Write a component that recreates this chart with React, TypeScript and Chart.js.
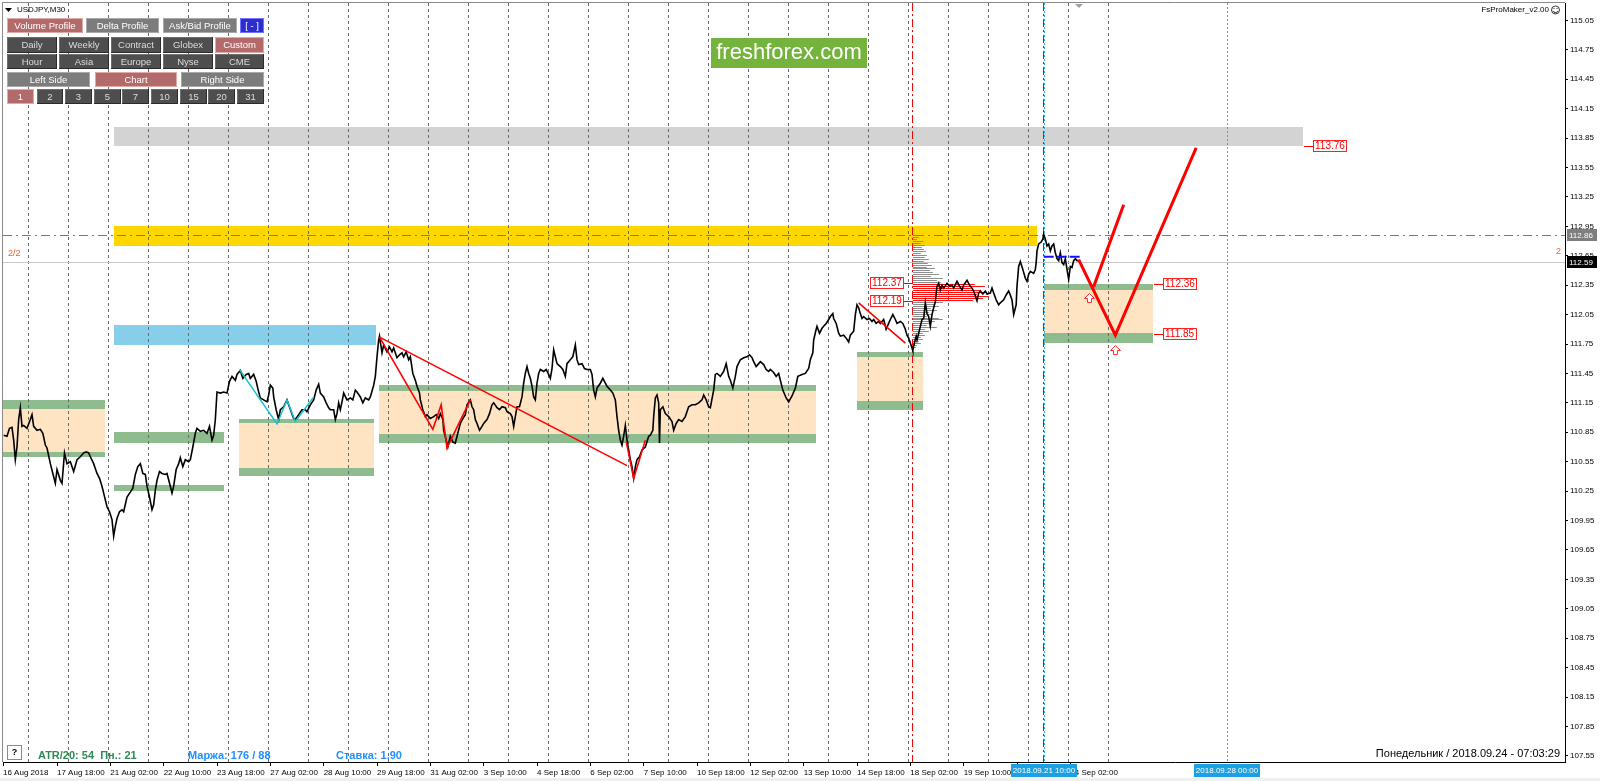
import React, { useEffect, useRef } from "react";
import { Chart, registerables } from "chart.js";

Chart.register(...registerables);

const FONT = '"Liberation Sans", Arial, sans-serif';

// ---- axes (x = M30 bar index, weekends removed; bar 0 = 17 Aug 2018 18:00) ----
const X_MIN = -64.8;
const X_MAX = 1809.6;
const Y_MIN = 107.488;
const Y_MAX = 115.227;

const xTickBars = [X_MIN, 0, 64, 128, 192, 256, 320, 384, 448, 512, 576, 640, 704, 768, 832, 896, 960, 1024, 1088, 1152, 1216];
const xTickLabels = [
  "16 Aug 2018", "17 Aug 18:00", "21 Aug 02:00", "22 Aug 10:00", "23 Aug 18:00", "27 Aug 02:00", "28 Aug 10:00",
  "29 Aug 18:00", "31 Aug 02:00", "3 Sep 10:00", "4 Sep 18:00", "6 Sep 02:00", "7 Sep 10:00", "10 Sep 18:00",
  "12 Sep 02:00", "13 Sep 10:00", "14 Sep 18:00", "18 Sep 02:00", "19 Sep 10:00", "20 Sep 18:00", "24 Sep 02:00",
];
const yTickValues = [
  107.55, 107.85, 108.15, 108.45, 108.75, 109.05, 109.35, 109.65, 109.95, 110.25, 110.55, 110.85, 111.15,
  111.45, 111.75, 112.05, 112.35, 112.65, 112.95, 113.25, 113.55, 113.85, 114.15, 114.45, 114.75, 115.05,
];

// day separators (midnight), in bars
const DAY_SEP_FIRST = -35;
const DAY_SEP_LAST = 1262;
const BARS_PER_DAY = 48;

// ---- USDJPY M30 close line: [bar, price] ----
const usdjpyCloses: number[][] = [
  [-64,110.82],[-60,110.81],[-57,110.89],[-54,110.90],[-52,110.77],[-50,110.57],[-48,110.70],[-46,110.98],[-44,111.10],[-42,110.91],
  [-40,110.92],[-36,110.89],[-32,110.98],[-30,111.03],[-28,110.91],[-24,110.87],[-20,110.88],[-17,110.84],[-14,110.72],[-12,110.69],
  [-8,110.53],[-5,110.43],[-2,110.33],[0,110.47],[4,110.36],[6,110.33],[9,110.64],[12,110.53],[16,110.55],[20,110.45],
  [24,110.57],[28,110.60],[32,110.64],[35,110.65],[38,110.64],[40,110.60],[44,110.53],[48,110.43],[51,110.38],[54,110.30],
  [56,110.23],[60,110.09],[63,110.04],[66,109.96],[68,109.79],[70,109.89],[72,109.97],[75,110.04],[78,110.06],[80,110.04],
  [84,110.19],[88,110.24],[91,110.28],[94,110.42],[97,110.50],[100,110.53],[103,110.43],[106,110.42],[108,110.30],[111,110.19],
  [114,110.06],[116,110.11],[118,110.26],[120,110.36],[123,110.45],[126,110.43],[130,110.42],[132,110.43],[136,110.30],[138,110.23],
  [140,110.30],[143,110.47],[146,110.53],[148,110.59],[151,110.50],[154,110.57],[158,110.55],[160,110.57],[163,110.70],[166,110.84],
  [168,110.89],[172,110.86],[176,110.87],[180,110.84],[183,110.91],[186,110.77],[188,110.82],[190,110.98],[192,111.26],[196,111.25],
  [200,111.26],[204,111.25],[207,111.37],[210,111.42],[214,111.38],[216,111.44],[220,111.48],[223,111.40],[227,111.44],[230,111.45],
  [232,111.40],[236,111.44],[239,111.37],[242,111.26],[244,111.20],[248,111.18],[252,111.16],[254,111.23],[256,111.33],[259,111.30],
  [260,111.21],[263,111.08],[266,110.98],[268,111.08],[272,111.11],[276,111.18],[278,111.13],[281,111.06],[284,110.99],[286,110.98],
  [290,111.03],[294,111.08],[298,111.08],[300,111.06],[304,111.13],[308,111.18],[311,111.28],[314,111.34],[316,111.25],[320,111.21],
  [323,111.15],[326,111.10],[328,111.08],[332,111.08],[334,110.98],[336,111.04],[338,111.15],[340,111.08],[342,111.16],[344,111.25],
  [348,111.18],[352,111.20],[355,111.18],[358,111.28],[360,111.26],[364,111.21],[367,111.15],[370,111.20],[374,111.18],[376,111.21],
  [380,111.33],[382,111.42],[384,111.62],[386,111.79],[387,111.83],
  [390,111.66],[392,111.74],[396,111.67],[399,111.72],[402,111.67],[404,111.71],[408,111.61],[411,111.64],[414,111.66],[416,111.62],
  [419,111.67],[422,111.59],[424,111.62],[427,111.45],[430,111.38],[432,111.32],[435,111.25],[436,111.18],[439,111.08],[442,111.01],
  [444,111.03],[448,110.99],[452,111.01],[455,111.03],[458,110.99],[460,111.04],[463,110.98],[464,110.87],[467,110.77],[469,110.70],
  [472,110.81],[475,110.75],[478,110.74],[480,110.81],[484,110.94],[487,110.99],[490,111.03],[492,111.13],[496,111.18],[498,111.11],
  [500,111.08],[502,110.98],[504,110.94],[507,110.87],[510,110.91],[512,110.94],[516,110.98],[519,111.04],[522,111.13],[524,111.15],
  [528,111.10],[531,111.08],[534,111.11],[538,111.10],[540,111.06],[544,111.04],[546,111.01],[548,110.91],[550,111.01],[552,111.11],
  [555,111.11],[558,111.21],[560,111.35],[562,111.45],[564,111.52],[566,111.45],[568,111.40],[570,111.32],[572,111.21],[574,111.18],
  [576,111.35],[578,111.45],[580,111.49],[584,111.47],[587,111.49],[590,111.44],[592,111.40],[594,111.50],[596,111.69],[598,111.62],
  [600,111.55],[604,111.52],[607,111.49],[610,111.42],[612,111.55],[616,111.59],[619,111.62],[622,111.74],[624,111.59],[626,111.54],
  [630,111.55],[633,111.50],[636,111.49],[640,111.49],[642,111.44],[644,111.28],[646,111.21],[648,111.30],[652,111.35],[655,111.40],
  [658,111.35],[660,111.32],[664,111.28],[667,111.25],[670,111.18],[672,111.01],[674,110.87],[676,110.77],[678,110.72],[680,110.81],
  [682,110.92],[684,110.77],[686,110.67],[688,110.57],[690,110.50],[692,110.38],[694,110.50],[696,110.57],[699,110.60],[702,110.67],
  [706,110.70],[710,110.81],[712,110.82],[715,110.87],[716,111.01],[718,111.20],[720,111.23],[722,111.15],[723,110.74],[724,111.08],
  [727,111.11],[730,111.04],[734,111.01],[738,110.96],[740,110.87],[743,110.94],[746,110.98],[750,110.96],[754,111.01],[758,111.11],
  [762,111.13],[766,111.13],[770,111.15],[774,111.18],[776,111.23],[779,111.18],[782,111.11],[784,111.10],[788,111.28],[790,111.44],
  [792,111.45],[796,111.42],[800,111.47],[803,111.55],[806,111.42],[808,111.38],[811,111.30],[814,111.42],[816,111.52],[820,111.59],
  [824,111.61],[828,111.62],[831,111.64],
  [834,111.61],[836,111.57],[839,111.52],[842,111.55],[844,111.57],[848,111.54],[851,111.49],[854,111.47],[856,111.49],[860,111.46],
  [863,111.42],[866,111.45],[868,111.38],[871,111.28],[875,111.20],[878,111.16],[882,111.22],[886,111.30],[889,111.42],[894,111.44],
  [898,111.45],[902,111.50],[904,111.59],[907,111.66],[908,111.79],[911,111.90],[912,111.93],[915,111.86],[918,111.91],[920,111.93],
  [923,111.96],[926,112.00],[928,112.03],[931,112.06],[932,112.01],[935,111.96],[938,111.86],[940,111.83],[944,111.84],[947,111.81],
  [950,111.77],[952,111.84],[956,111.88],[958,112.05],[960,112.15],[962,112.12],[964,112.06],[966,112.01],[968,112.03],[972,112.00],
  [975,112.01],[978,111.98],[980,112.00],[983,111.96],[986,111.98],[988,111.96],[992,112.00],[995,111.90],[998,111.96],[1000,112.00],
  [1003,112.05],[1006,112.00],[1008,111.96],[1012,111.98],[1015,111.96],[1018,111.90],[1020,111.84],[1022,111.81],[1024,111.76],[1026,111.71],
  [1027,111.68],[1028,111.73],[1031,111.83],[1032,111.79],[1034,111.86],[1036,111.93],[1038,112.00],[1040,112.01],[1042,112.17],[1044,112.06],
  [1046,112.03],[1048,111.93],[1050,112.05],[1052,112.12],[1054,112.18],[1056,112.34],[1058,112.37],[1060,112.30],[1062,112.35],[1064,112.32],
  [1068,112.37],[1071,112.34],[1074,112.35],[1076,112.32],[1080,112.39],[1083,112.34],[1086,112.30],[1088,112.35],[1092,112.40],[1095,112.35],
  [1098,112.32],[1100,112.29],[1102,112.24],[1104,112.19],[1106,112.27],[1108,112.29],[1111,112.26],[1114,112.29],[1116,112.26],[1120,112.27],
  [1122,112.32],[1124,112.27],[1127,112.20],[1130,112.15],[1132,112.17],[1136,112.20],[1139,112.25],[1142,112.29],[1144,112.25],[1146,112.20],
  [1148,112.05],[1151,112.15],[1152,112.34],[1154,112.54],[1156,112.59],[1159,112.51],[1162,112.42],[1164,112.39],[1166,112.46],[1168,112.49],
  [1172,112.47],[1174,112.51],[1175,112.58],[1176,112.70],[1178,112.77],[1181,112.79],[1183,112.82],[1184,112.87],[1186,112.82],[1188,112.75],
  [1190,112.77],[1192,112.70],[1194,112.75],[1196,112.77],[1198,112.68],[1200,112.62],[1202,112.60],[1204,112.68],[1206,112.58],[1208,112.56],
  [1210,112.62],[1212,112.51],[1214,112.41],[1216,112.54],[1218,112.53],[1220,112.60],[1222,112.62],[1224,112.60],[1226,112.60],
];

// ---- zones: [barFrom, barTo, priceTop, priceBottom] ----
const grayZones = [[68, 1495, 113.965, 113.77]];
const goldZones = [[68, 1176, 112.95, 112.75]];
const skyZones = [[68, 383, 111.94, 111.735]];
const sandZones = [
  [-66, 58, 111.09, 110.645], [218, 380, 110.94, 110.49], [386, 911, 111.27, 110.835],
  [960, 1039, 111.615, 111.17], [1184, 1315, 112.30, 111.86],
];
const greenZones = [
  [-66, 58, 111.18, 111.09], [-66, 58, 110.645, 110.595], [68, 200, 110.85, 110.745], [68, 200, 110.31, 110.255],
  [218, 380, 110.99, 110.94], [218, 380, 110.49, 110.40], [386, 911, 111.33, 111.27], [386, 911, 110.835, 110.74],
  [960, 1039, 111.665, 111.615], [960, 1039, 111.17, 111.08], [1184, 1315, 112.36, 112.30], [1184, 1315, 111.86, 111.765],
];

// ---- drawn lines: [bar, price] ----
const redTrendLong = [[387, 111.82], [684, 110.51]];
const redZigzagA = [[387, 111.82], [451, 110.88], [461, 111.13], [468, 110.69], [496, 111.18]];
const redZigzagB = [[683, 110.76], [692, 110.38], [706, 110.77]];
const redZigzagC = [[962, 112.17], [1018, 111.76]];
const cyanZigzag = [[219, 111.49], [264, 110.935], [276, 111.18], [286, 110.96], [308, 111.21]];
const forecastMain = [[1226, 112.61], [1270, 111.84], [1367, 113.75]];
const forecastAlt = [[1244, 112.335], [1280, 113.17]];
const bidTrail = [[1184, 112.64], [1230, 112.64]];
const arrowMarks = [[1238, 112.27], [1270, 111.74]];

const redDashVerticals = [1027, 1184];
const cyanDotVerticals = [1184, 1404];
const DASHDOT_LEVEL = 112.86;
const BID_LEVEL = 112.59;

// ---- volume profile ----
const PROFILE_START = 1027;
const PROFILE_BARS_PER_UNIT = 1.2;
const VALUE_AREA_LOW = 112.19;
const VALUE_AREA_HIGH = 112.37;
const profileLevels = [
  112.86, 112.84, 112.82, 112.80, 112.78, 112.76, 112.74, 112.72, 112.70, 112.68, 112.66, 112.64, 112.62, 112.60,
  112.58, 112.56, 112.54, 112.52, 112.50, 112.48, 112.46, 112.44, 112.42, 112.40, 112.38, 112.36, 112.34, 112.32,
  112.30, 112.28, 112.26, 112.24, 112.22, 112.20, 112.18, 112.16, 112.14, 112.12, 112.10, 112.08, 112.06, 112.04,
  112.02, 112.00, 111.98, 111.96, 111.94, 111.92, 111.90, 111.88, 111.86, 111.84, 111.82, 111.80, 111.78, 111.76,
  111.74, 111.72,
];
const profileVolumes = [
  3, 6, 4, 10, 8, 12, 9, 11, 13, 8, 14, 12, 16, 11, 15, 19, 14, 22, 17, 20, 26, 18, 30, 24, 28, 62, 72, 58, 68, 74,
  64, 76, 70, 60, 30, 22, 26, 18, 24, 16, 20, 14, 26, 30, 22, 18, 14, 24, 12, 16, 10, 12, 8, 10, 6, 8, 4, 3,
];

// ---- price labels: [anchorBar, price, text] ----
const leftTags = [[1027, 112.37, "112.37"], [1027, 112.19, "112.19"]];
const rightTags = [[1495, 113.765, "113.76"], [1315, 112.36, "112.36"], [1315, 111.85, "111.85"]];
const axisTags = [[112.86, "#7F7F7F"], [112.59, "#000000"]];
const axisTimeTags = [[1184, "2018.09.21 10:00"], [1404, "2018.09.28 00:00"]];

// ---- panel buttons ----
const buttons: [string, number, number, number, number, string][] = [
  ["Volume Profile", 7, 18, 76, 15, "red"], ["Delta Profile", 86, 18, 73, 15, "gray"], ["Ask/Bid Profile", 163, 18, 74, 15, "gray"], ["[ - ]", 240, 18, 24, 15, "blue"],
  ["Daily", 7, 37, 50, 16, "dark"], ["Weekly", 59, 37, 50, 16, "dark"], ["Contract", 111, 37, 50, 16, "dark"], ["Globex", 163, 37, 50, 16, "dark"], ["Custom", 215, 37, 49, 16, "red"],
  ["Hour", 7, 54, 50, 15, "dark"], ["Asia", 59, 54, 50, 15, "dark"], ["Europe", 111, 54, 50, 15, "dark"], ["Nyse", 163, 54, 50, 15, "dark"], ["CME", 215, 54, 49, 15, "dark"],
  ["Left Side", 7, 72, 83, 15, "gray"], ["Chart", 95, 72, 82, 15, "red"], ["Right Side", 181, 72, 83, 15, "gray"],
  ["1", 7, 89, 27, 15, "red"], ["2", 37, 89, 26, 15, "dark"], ["3", 65, 89, 27, 15, "dark"], ["5", 94, 89, 27, 15, "dark"], ["7", 122, 89, 27, 15, "dark"],
  ["10", 151, 89, 27, 15, "dark"], ["15", 180, 89, 27, 15, "dark"], ["20", 208, 89, 27, 15, "dark"], ["31", 237, 89, 27, 15, "dark"],
];
const btnStyles: Record<string, { fill: string; hi: string; lo: string; text: string }> = {
  red: { fill: "#B26A6A", hi: "#E3A9A9", lo: "#E3A9A9", text: "#FFFFFF" },
  gray: { fill: "#7C7C7C", hi: "#A9A9A9", lo: "#A9A9A9", text: "#FFFFFF" },
  dark: { fill: "#4E4E4E", hi: "#6E6E6E", lo: "#2A2A2A", text: "#DCDCDC" },
  blue: { fill: "#2E2ECF", hi: "#7474FF", lo: "#7474FF", text: "#FFFFFF" },
};

const toXY = (arr: number[][]) => arr.map(([x, y]) => ({ x, y }));
const lineDs = (arr: number[][], color: string, width: number, order: number, dash: number[] = []) => ({
  data: toXY(arr), borderColor: color, borderWidth: width, pointRadius: 0, pointHoverRadius: 0,
  fill: false, tension: 0, order, borderDash: dash, borderJoinStyle: "miter" as const,
});

const drawPlugin = {
  id: "mt4Overlay",
  beforeDraw(chart: any) {
    const ctx = chart.ctx;
    ctx.save();
    ctx.fillStyle = "#FFFFFF";
    ctx.fillRect(0, 0, chart.width, chart.height);
    ctx.fillStyle = "#F0F0F0";
    ctx.fillRect(0, 778, chart.width, 3);
    ctx.restore();
  },
  beforeDatasetsDraw(chart: any) {
    const { ctx, chartArea: a } = chart;
    const xs = chart.scales.x, ys = chart.scales.y;
    const X = (v: number) => xs.getPixelForValue(v);
    const Y = (v: number) => ys.getPixelForValue(v);
    ctx.save();
    ctx.beginPath();
    ctx.rect(a.left, a.top, a.right - a.left, a.bottom - a.top);
    ctx.clip();
    const zones = (list: number[][], color: string) => {
      ctx.fillStyle = color;
      list.forEach(([t1, t2, p1, p2]) => {
        const x1 = Math.round(X(t1)), x2 = Math.round(X(t2)), y1 = Math.round(Y(p1)), y2 = Math.round(Y(p2));
        ctx.fillRect(x1, y1, x2 - x1, y2 - y1);
      });
    };
    zones(grayZones, "#D3D3D3");
    zones(goldZones, "#FFD700");
    zones(skyZones, "#87CEEB");
    zones(sandZones, "#FFE4C4");
    zones(greenZones, "#8FBC8F");

    // day separators
    ctx.strokeStyle = "#6A6A6A";
    ctx.lineWidth = 1;
    ctx.setLineDash([3, 3]);
    for (let b = DAY_SEP_FIRST; b <= DAY_SEP_LAST; b += BARS_PER_DAY) {
      const x = Math.round(X(b)) + 0.5;
      ctx.beginPath();
      ctx.moveTo(x, a.top);
      ctx.lineTo(x, a.bottom);
      ctx.stroke();
    }
    // cyan dotted verticals
    ctx.strokeStyle = "#1EB4F0";
    ctx.setLineDash([2, 2]);
    cyanDotVerticals.forEach((b) => {
      const x = Math.round(X(b)) + 0.5;
      ctx.beginPath(); ctx.moveTo(x, a.top); ctx.lineTo(x, a.bottom); ctx.stroke();
    });
    // red dash-dot verticals
    ctx.strokeStyle = "#FF0000";
    ctx.setLineDash([8, 3, 2, 3]);
    redDashVerticals.forEach((b) => {
      const x = Math.round(X(b)) - 0.5;
      ctx.beginPath(); ctx.moveTo(x, a.top); ctx.lineTo(x, a.bottom); ctx.stroke();
    });
    // horizontal levels
    ctx.strokeStyle = "#7A7A7A";
    ctx.setLineDash([9, 4, 2, 4]);
    let y = Math.round(Y(DASHDOT_LEVEL)) + 0.5;
    ctx.beginPath(); ctx.moveTo(a.left, y); ctx.lineTo(a.right, y); ctx.stroke();
    ctx.setLineDash([]);
    ctx.strokeStyle = "#C8C8C8";
    y = Math.round(Y(BID_LEVEL)) + 0.5;
    ctx.beginPath(); ctx.moveTo(a.left, y); ctx.lineTo(a.right, y); ctx.stroke();

    // volume profile
    const x0 = X(PROFILE_START);
    profileLevels.forEach((lvl, i) => {
      const inVA = lvl >= VALUE_AREA_LOW && lvl <= VALUE_AREA_HIGH;
      const x1 = X(PROFILE_START + profileVolumes[i] * PROFILE_BARS_PER_UNIT);
      const yc = Math.round(Y(lvl));
      ctx.fillStyle = inVA ? "#FF1010" : "#8E8E8E";
      ctx.fillRect(x0, yc, x1 - x0, 1);
    });
    ctx.restore();
  },
  afterDatasetsDraw(chart: any) {
    const { ctx } = chart;
    const xs = chart.scales.x, ys = chart.scales.y;
    const X = (v: number) => xs.getPixelForValue(v);
    const Y = (v: number) => ys.getPixelForValue(v);
    ctx.save();
    // hollow up arrows
    arrowMarks.forEach(([b, p]) => {
      const cx = Math.round(X(b)) + 0.5, top = Math.round(Y(p)) + 0.5;
      ctx.beginPath();
      ctx.moveTo(cx, top);
      ctx.lineTo(cx + 5, top + 5);
      ctx.lineTo(cx + 2, top + 5);
      ctx.lineTo(cx + 2, top + 9);
      ctx.lineTo(cx - 2, top + 9);
      ctx.lineTo(cx - 2, top + 5);
      ctx.lineTo(cx - 5, top + 5);
      ctx.closePath();
      ctx.fillStyle = "#FFFFFF";
      ctx.fill();
      ctx.strokeStyle = "#FF3030";
      ctx.lineWidth = 1;
      ctx.stroke();
    });
    // price tags with red frames
    ctx.font = `10px ${FONT}`;
    ctx.textBaseline = "middle";
    const tag = (xLeft: number, yc: number, text: string) => {
      const w = Math.ceil(ctx.measureText(text).width) + 4;
      ctx.fillStyle = "#FFFFFF";
      ctx.fillRect(xLeft, yc - 6, w, 12);
      ctx.strokeStyle = "#FF2020";
      ctx.lineWidth = 1;
      ctx.strokeRect(xLeft + 0.5, yc - 5.5, w - 1, 11);
      ctx.fillStyle = "#FF0000";
      ctx.textAlign = "left";
      ctx.fillText(text, xLeft + 2, yc + 0.5);
      return w;
    };
    leftTags.forEach(([b, p, t]) => {
      const xa = Math.round(X(b as number)), yc = Math.round(Y(p as number));
      const w = Math.ceil(ctx.measureText(t as string).width) + 4;
      ctx.strokeStyle = "#FF0000";
      ctx.beginPath(); ctx.moveTo(xa - 9, yc + 0.5); ctx.lineTo(xa, yc + 0.5); ctx.stroke();
      tag(xa - 9 - w, yc, t as string);
    });
    rightTags.forEach(([b, p, t]) => {
      const xa = Math.round(X(b as number)), yc = Math.round(Y(p as number));
      ctx.strokeStyle = "#FF0000";
      ctx.beginPath(); ctx.moveTo(xa + 1, yc + 0.5); ctx.lineTo(xa + 10, yc + 0.5); ctx.stroke();
      tag(xa + 10, yc, t as string);
    });
    ctx.restore();
  },
  afterDraw(chart: any) {
    const { ctx, chartArea: a } = chart;
    const xs = chart.scales.x, ys = chart.scales.y;
    const X = (v: number) => xs.getPixelForValue(v);
    const Y = (v: number) => ys.getPixelForValue(v);
    ctx.save();
    // frame top/left
    ctx.strokeStyle = "#8A8A8A";
    ctx.lineWidth = 1;
    ctx.beginPath();
    ctx.moveTo(a.left - 0.5, a.bottom);
    ctx.lineTo(a.left - 0.5, a.top - 0.5);
    ctx.lineTo(a.right, a.top - 0.5);
    ctx.stroke();

    // axis price tags
    ctx.font = `8px ${FONT}`;
    ctx.textBaseline = "middle";
    ctx.textAlign = "left";
    axisTags.forEach(([p, color]) => {
      const yc = Math.round(Y(p as number));
      ctx.fillStyle = color as string;
      ctx.fillRect(a.right + 2, yc - 6, 30, 12);
      ctx.fillStyle = "#FFFFFF";
      ctx.fillText((p as number).toFixed(2), a.right + 4, yc + 0.5);
    });
    // axis time tags
    axisTimeTags.forEach(([b, t]) => {
      const xc = Math.round(X(b as number));
      ctx.fillStyle = "#1BA1E2";
      ctx.fillRect(xc - 33, a.bottom + 2, 66, 13);
      ctx.fillStyle = "#FFFFFF";
      ctx.textAlign = "center";
      ctx.fillText(t as string, xc, a.bottom + 9);
    });

    // left / right cycle labels
    ctx.font = `9px ${FONT}`;
    ctx.fillStyle = "#FF5A2A";
    ctx.textAlign = "left";
    ctx.fillText("2/2", 8, 254);
    ctx.textAlign = "right";
    ctx.fillText("2", a.right - 4, 252);

    // title
    ctx.fillStyle = "#000000";
    ctx.beginPath();
    ctx.moveTo(5, 8); ctx.lineTo(12, 8); ctx.lineTo(8.5, 12); ctx.closePath(); ctx.fill();
    ctx.font = `8px ${FONT}`;
    ctx.textAlign = "left";
    ctx.fillText("USDJPY,M30", 17, 10);

    // right top indicator name + smiley
    ctx.textAlign = "right";
    ctx.fillText("FsProMaker_v2.00", 1549, 10);
    ctx.strokeStyle = "#333";
    ctx.beginPath(); ctx.arc(1555.5, 10, 4, 0, Math.PI * 2); ctx.stroke();
    ctx.beginPath(); ctx.arc(1555.5, 10.5, 2.2, 0.2, Math.PI - 0.2); ctx.stroke();
    ctx.fillStyle = "#333";
    ctx.fillRect(1553.5, 8, 1, 1); ctx.fillRect(1556.5, 8, 1, 1);

    // chart shift marker
    ctx.fillStyle = "#A0A0A0";
    ctx.beginPath();
    const sx = Math.round(X(1226));
    ctx.moveTo(sx - 4, a.top + 1); ctx.lineTo(sx + 4, a.top + 1); ctx.lineTo(sx, a.top + 5); ctx.closePath(); ctx.fill();

    // watermark
    ctx.fillStyle = "#74B43C";
    ctx.fillRect(711, 38, 156, 30);
    ctx.fillStyle = "#FFFFFF";
    ctx.font = `22px ${FONT}`;
    ctx.textAlign = "center";
    ctx.fillText("freshforex.com", 789, 53);

    // buttons
    ctx.font = `9.5px ${FONT}`;
    buttons.forEach(([label, bx, by, bw, bh, kind]) => {
      const s = btnStyles[kind];
      ctx.fillStyle = s.fill;
      ctx.fillRect(bx, by, bw, bh);
      ctx.strokeStyle = s.hi;
      ctx.beginPath();
      ctx.moveTo(bx + 0.5, by + bh); ctx.lineTo(bx + 0.5, by + 0.5); ctx.lineTo(bx + bw, by + 0.5);
      ctx.stroke();
      ctx.strokeStyle = s.lo;
      ctx.beginPath();
      ctx.moveTo(bx + bw - 0.5, by); ctx.lineTo(bx + bw - 0.5, by + bh - 0.5); ctx.lineTo(bx, by + bh - 0.5);
      ctx.stroke();
      ctx.fillStyle = s.text;
      ctx.textAlign = "center";
      ctx.fillText(label, bx + bw / 2, by + bh / 2 + 0.5);
    });

    // bottom-left info
    ctx.fillStyle = "#FFFFFF";
    ctx.fillRect(7, 745, 15, 15);
    ctx.strokeStyle = "#8A8A8A";
    ctx.strokeRect(7.5, 745.5, 14, 14);
    ctx.fillStyle = "#000";
    ctx.font = `bold 9px ${FONT}`;
    ctx.textAlign = "center";
    ctx.fillText("?", 14.5, 753);
    ctx.font = `bold 11px ${FONT}`;
    ctx.textAlign = "left";
    ctx.fillStyle = "#2E8B57";
    ctx.fillText("ATR/20: 54  Пн.: 21", 38, 756);
    ctx.fillStyle = "#1E90FF";
    ctx.fillText("Маржа: 176 / 88", 188, 756);
    ctx.fillText("Ставка: 1.90", 336, 756);
    ctx.font = `11px ${FONT}`;
    ctx.fillStyle = "#000";
    ctx.textAlign = "right";
    ctx.fillText("Понедельник / 2018.09.24 - 07:03:29", 1560, 754);
    ctx.restore();
  },
};

export default function App() {
  const ref = useRef<HTMLCanvasElement>(null);
  useEffect(() => {
    const chart = new Chart(ref.current as HTMLCanvasElement, {
      type: "line",
      data: {
        datasets: [
          lineDs(usdjpyCloses, "#000000", 1.6, 10),
          lineDs(redTrendLong, "#FF0000", 1.6, 5),
          lineDs(redZigzagA, "#FF0000", 1.6, 5),
          lineDs(redZigzagB, "#FF0000", 1.6, 5),
          lineDs(redZigzagC, "#FF0000", 1.6, 5),
          lineDs(cyanZigzag, "#17C3CF", 1.4, 5),
          lineDs(bidTrail, "#1010FF", 2, 3, [10, 3]),
          lineDs(forecastMain, "#FF0000", 3, 1),
          lineDs(forecastAlt, "#FF0000", 3, 1),
        ] as any,
      },
      options: {
        animation: false,
        responsive: false,
        devicePixelRatio: 1,
        events: [],
        layout: { padding: { left: 3, top: 3, right: 0, bottom: 0 } },
        plugins: { legend: { display: false }, tooltip: { enabled: false } },
        scales: {
          x: {
            type: "linear",
            position: "bottom",
            min: X_MIN,
            max: X_MAX,
            afterBuildTicks: (s: any) => { s.ticks = xTickBars.map((v) => ({ value: v })); },
            afterFit: (s: any) => { s.height = 19; s.paddingLeft = 0; s.paddingRight = 0; },
            ticks: {
              autoSkip: false, maxRotation: 0, minRotation: 0, align: "start", padding: 2, color: "#000000",
              font: { family: FONT, size: 8 },
              callback: (_v: any, i: number) => xTickLabels[i],
            },
            grid: { drawOnChartArea: false, drawTicks: true, tickLength: 4, color: "#000000" },
            border: { display: true, color: "#000000" },
          },
          y: {
            type: "linear",
            position: "right",
            min: Y_MIN,
            max: Y_MAX,
            afterBuildTicks: (s: any) => { s.ticks = yTickValues.map((v) => ({ value: v })); },
            afterFit: (s: any) => { s.width = 35; s.paddingTop = 0; s.paddingBottom = 0; },
            ticks: {
              padding: 2, color: "#000000", font: { family: FONT, size: 8 },
              callback: (v: any) => Number(v).toFixed(2),
            },
            grid: { drawOnChartArea: false, drawTicks: true, tickLength: 3, color: "#000000" },
            border: { display: true, color: "#000000" },
          },
        },
      } as any,
      plugins: [drawPlugin],
    });
    return () => chart.destroy();
  }, []);
  return (
    <div style={{ position: "fixed", left: 0, top: 0, width: 1600, height: 781, background: "#FFFFFF" }}>
      <canvas ref={ref} width={1600} height={781} style={{ display: "block", width: 1600, height: 781 }} />
    </div>
  );
}
